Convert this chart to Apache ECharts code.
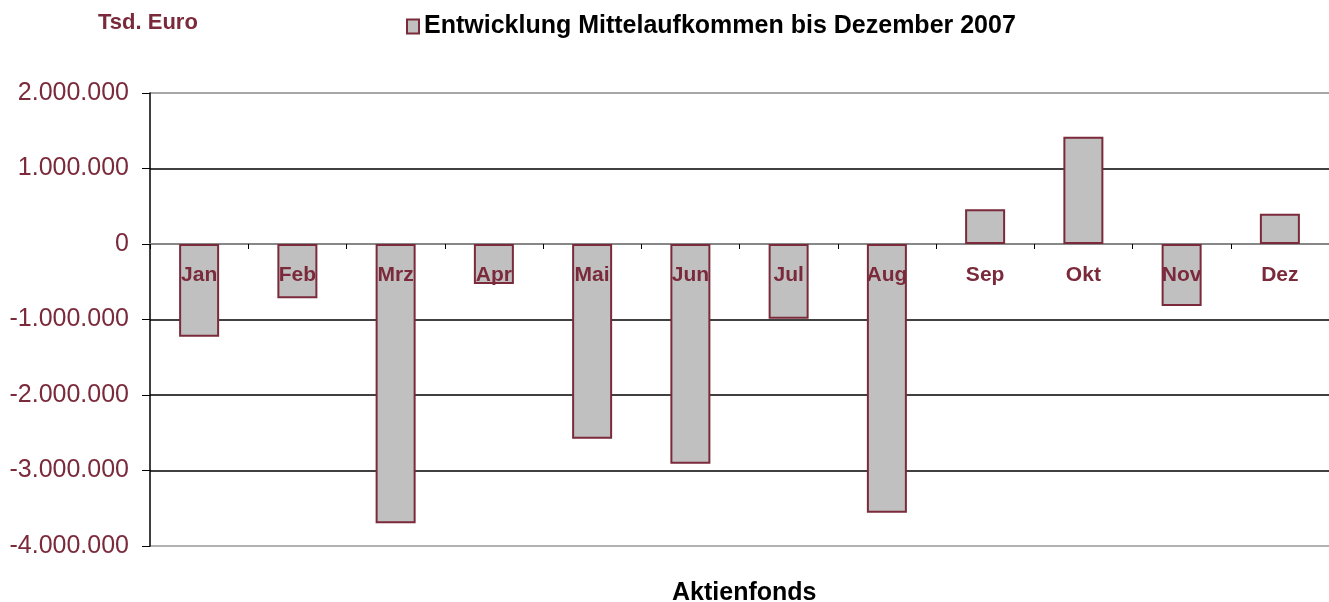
<!DOCTYPE html>
<html>
<head>
<meta charset="utf-8">
<script src="https://cdn.jsdelivr.net/npm/echarts@6/dist/echarts.min.js"></script>
<style>
  html, body { margin: 0; padding: 0; background: #fff; }
  #chart { width: 1329px; height: 602px; }
</style>
</head>
<body>
<div id="chart"></div>
<script>
const months = ['Jan', 'Feb', 'Mrz', 'Apr', 'Mai', 'Jun', 'Jul', 'Aug', 'Sep', 'Okt', 'Nov', 'Dez'];
const mittelaufkommen = [-1230000, -720000, -3700000, -530000, -2580000, -2910000, -990000, -3560000, 460000, 1420000, -820000, 400000];
const seriesName = 'Entwicklung Mittelaufkommen bis Dezember 2007';

const red = '#7a2a3a';

const fmt = v => {
  const s = Math.abs(v).toString().replace(/\B(?=(\d{3})+(?!\d))/g, '.');
  return (v < 0 ? '-' : '') + s;
};

const chart = echarts.init(document.getElementById('chart'));

chart.setOption({
  backgroundColor: '#fff',
  animation: false,
  title: [
    {
      text: 'Tsd. Euro',
      left: 93, top: 7,
      textStyle: { color: red, fontSize: 22, fontWeight: 'bold', fontFamily: 'Liberation Sans' }
    },
    {
      text: 'Aktienfonds',
      left: 667, top: 576,
      textStyle: { color: '#000', fontSize: 25, fontWeight: 'bold', fontFamily: 'Liberation Sans' }
    }
  ],
  legend: {
    data: [seriesName],
    left: 401, top: 9,
    icon: 'rect',
    itemWidth: 12, itemHeight: 14,
    itemGap: 5,
    textStyle: { color: '#000', fontSize: 25, fontWeight: 'bold', fontFamily: 'Liberation Sans' }
  },
  grid: { left: 150, right: 0, top: 93, bottom: 56 },
  xAxis: {
    type: 'category',
    data: months,
    axisLine: { onZero: true, lineStyle: { color: '#888', width: 2 } },
    axisTick: { show: true, interval: 0, length: 5, lineStyle: { color: '#000' } },
    axisLabel: { show: false }
  },
  yAxis: {
    type: 'value',
    min: -4000000, max: 2000000, interval: 1000000,
    axisLine: { show: true, lineStyle: { color: '#000', width: 1.5 } },
    axisTick: { show: true, length: 8, lineStyle: { color: '#000' } },
    axisLabel: { color: red, fontSize: 25, fontFamily: 'Liberation Sans', margin: 21, formatter: fmt },
    splitLine: {
      show: true,
      lineStyle: { color: ['#999', '#000', '#000', '#000', '#888', '#000', '#888'], width: 1.5 }
    }
  },
  series: [
    {
      name: seriesName,
      type: 'bar',
      data: mittelaufkommen,
      barWidth: 40,
      itemStyle: { color: '#c0c0c0', borderColor: red, borderWidth: 2 }
    },
    {
      // category names sit just below the zero line, over the bars
      name: 'labels',
      type: 'bar',
      data: months.map(() => 0),
      barWidth: 40,
      barGap: '-100%',
      z: 5,
      silent: true,
      itemStyle: { color: 'transparent', borderWidth: 0 },
      label: {
        show: true,
        position: 'bottom',
        distance: 21,
        formatter: '{b}',
        color: red,
        fontSize: 21,
        fontWeight: 'bold',
        fontFamily: 'Liberation Sans'
      }
    }
  ]
});
</script>
</body>
</html>
